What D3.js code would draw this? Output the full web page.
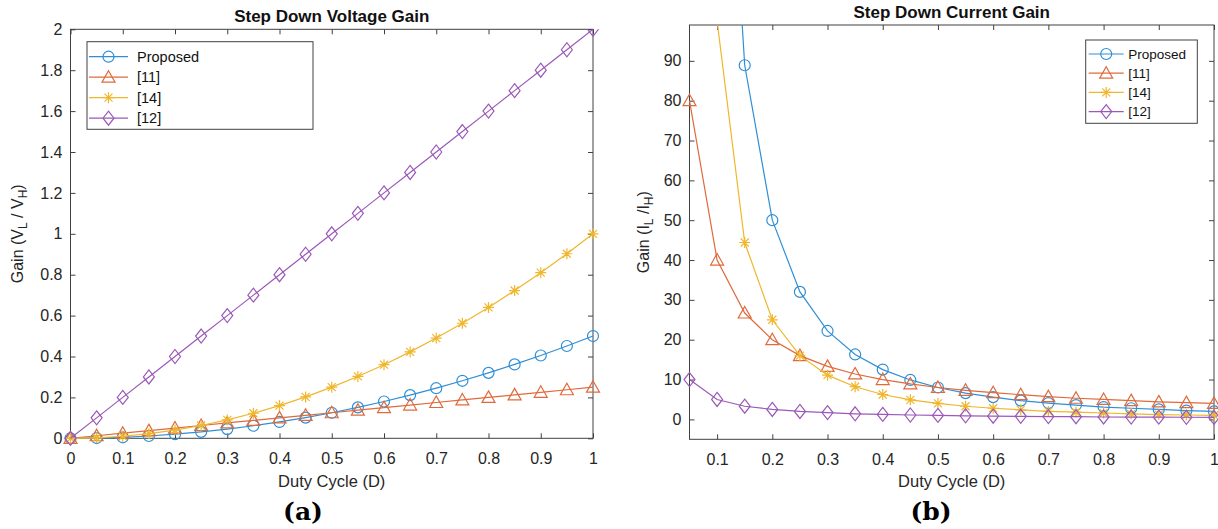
<!DOCTYPE html>
<html>
<head>
<meta charset="utf-8">
<script src="https://cdn.jsdelivr.net/npm/d3@7"></script>
<style>
  body { margin: 0; background: #fff; }
  svg { font-family: "Liberation Sans", Arial, sans-serif; }
</style>
</head>
<body>
<div id="views"></div>
<script>
// ---- data ----
var dutyA = [0, 0.05, 0.1, 0.15, 0.2, 0.25, 0.3, 0.35, 0.4, 0.45, 0.5,
             0.55, 0.6, 0.65, 0.7, 0.75, 0.8, 0.85, 0.9, 0.95, 1];
var voltProposed = [0, 0.00125, 0.005, 0.01125, 0.02, 0.03125, 0.045, 0.06125, 0.08, 0.10125, 0.125,
                    0.15125, 0.18, 0.21125, 0.245, 0.28125, 0.32, 0.36125, 0.405, 0.45125, 0.5];
var volt11 = [0, 0.0125, 0.025, 0.0375, 0.05, 0.0625, 0.075, 0.0875, 0.1, 0.1125, 0.125,
              0.1375, 0.15, 0.1625, 0.175, 0.1875, 0.2, 0.2125, 0.225, 0.2375, 0.25];
var volt14 = [0, 0.0025, 0.01, 0.0225, 0.04, 0.0625, 0.09, 0.1225, 0.16, 0.2025, 0.25,
              0.3025, 0.36, 0.4225, 0.49, 0.5625, 0.64, 0.7225, 0.81, 0.9025, 1];
var volt12 = [0, 0.1, 0.2, 0.3, 0.4, 0.5, 0.6, 0.7, 0.8, 0.9, 1,
              1.1, 1.2, 1.3, 1.4, 1.5, 1.6, 1.7, 1.8, 1.9, 2];

var dutyB = [0.05, 0.1, 0.15, 0.2, 0.25, 0.3, 0.35, 0.4, 0.45, 0.5,
             0.55, 0.6, 0.65, 0.7, 0.75, 0.8, 0.85, 0.9, 0.95, 1];
var currProposed = [800, 200, 88.9, 50, 32, 22.2, 16.3, 12.5, 9.9, 8,
                    6.6, 5.6, 4.7, 4.1, 3.6, 3.1, 2.8, 2.5, 2.2, 2];
var curr11 = [80, 40, 26.7, 20, 16, 13.3, 11.4, 10, 8.9, 8,
              7.3, 6.7, 6.2, 5.7, 5.3, 5, 4.7, 4.4, 4.2, 4];
var curr14 = [400, 100, 44.4, 25, 16, 11.1, 8.2, 6.25, 4.9, 4,
              3.3, 2.8, 2.4, 2.0, 1.8, 1.6, 1.4, 1.2, 1.1, 1];
var curr12 = [10, 5, 3.3, 2.5, 2, 1.7, 1.4, 1.25, 1.1, 1,
              0.9, 0.8, 0.77, 0.7, 0.67, 0.6, 0.59, 0.56, 0.53, 0.5];

var seriesNames = ["Proposed", "[11]", "[14]", "[12]"];
var seriesColors = ["#2f8fd6", "#e06a3b", "#f0b62c", "#9b58b8"];
var seriesMarkers = ["circle", "triangle", "star", "diamond"];

var ticksXA = [0, 0.1, 0.2, 0.3, 0.4, 0.5, 0.6, 0.7, 0.8, 0.9, 1];
var ticksYA = [0, 0.2, 0.4, 0.6, 0.8, 1, 1.2, 1.4, 1.6, 1.8, 2];
var ticksXB = [0.1, 0.2, 0.3, 0.4, 0.5, 0.6, 0.7, 0.8, 0.9, 1];
var ticksYB = [0, 10, 20, 30, 40, 50, 60, 70, 80, 90];

var W = 1218, H = 529;
var axisColor = "#404040";

var svg = d3.select("#views").append("svg")
    .attr("width", W).attr("height", H);

function markerPath(type) {
    if (type == "circle") return d3.arc()({innerRadius: 0, outerRadius: 5.5, startAngle: 0, endAngle: 2 * Math.PI});
    if (type == "triangle") return "M0,-6.5L6.5,5L-6.5,5Z";
    if (type == "diamond") return "M0,-7L5.5,0L0,7L-5.5,0Z";
    // star: MATLAB '*' = plus + cross
    return "M-5.5,0L5.5,0M0,-5.5L0,5.5M-4,-4L4,4M-4,4L4,-4";
}

function drawPanel(p) {
    var g = svg.append("g");
    var x = d3.scaleLinear().domain(p.xdom).range([p.left, p.right]);
    var y = d3.scaleLinear().domain(p.ydom).range([p.bottom, p.top]);

    // clip only at the top (lines leaving the axes)
    var clipId = "clip" + p.id;
    svg.append("clipPath").attr("id", clipId).append("rect")
        .attr("x", p.left - 20).attr("y", p.top)
        .attr("width", p.right - p.left + 40).attr("height", p.bottom - p.top + 30);

    // axes: ticks drawn inward on all four sides
    var fmt = function(d) { return String(+d.toFixed(1)); };
    var ax = [
        [d3.axisBottom(x).tickValues(p.xticks).tickFormat(fmt).tickSize(-5).tickPadding(14), "translate(0," + p.bottom + ")"],
        [d3.axisTop(x).tickValues(p.xticks).tickFormat("").tickSize(-5), "translate(0," + p.top + ")"],
        [d3.axisLeft(y).tickValues(p.yticks).tickFormat(fmt).tickSize(-5).tickPadding(8), "translate(" + p.left + ",0)"],
        [d3.axisRight(y).tickValues(p.yticks).tickFormat("").tickSize(-5), "translate(" + p.right + ",0)"]
    ];
    ax.forEach(function(a) {
        var ag = g.append("g").attr("transform", a[1]).call(a[0]);
        ag.select(".domain").remove();
        ag.selectAll("line").attr("stroke", axisColor);
        ag.selectAll("text").attr("fill", "#262626").style("font-size", "16px")
            .style("font-family", "Liberation Sans, Arial, sans-serif");
    });
    g.append("rect")
        .attr("x", p.left).attr("y", p.top)
        .attr("width", p.right - p.left).attr("height", p.bottom - p.top)
        .attr("fill", "none").attr("stroke", axisColor).attr("stroke-width", 1);

    // series
    var line = d3.line().x(d => x(d.d)).y(d => y(d.v));
    var plot = g.append("g").attr("clip-path", "url(#" + clipId + ")");
    p.series.forEach(function(vals, i) {
        var pts = p.duty.map(function(d, j) { return {d: d, v: vals[j]}; });
        plot.append("path").datum(pts)
            .attr("d", line)
            .attr("fill", "none")
            .attr("stroke", seriesColors[i])
            .attr("stroke-width", 1.2);
        plot.selectAll(".m" + i)
            .data(pts.filter(d => d.v <= p.ydom[1]))
            .enter().append("path")
            .attr("class", "m" + i)
            .attr("transform", d => "translate(" + x(d.d) + "," + y(d.v) + ")")
            .attr("d", markerPath(seriesMarkers[i]))
            .attr("fill", "none")
            .attr("stroke", seriesColors[i])
            .attr("stroke-width", 1.2);
    });

    // title
    g.append("text")
        .attr("x", (p.left + p.right) / 2).attr("y", p.top - 7)
        .attr("text-anchor", "middle")
        .style("font-size", "17px").style("font-weight", "bold")
        .attr("fill", "#111")
        .text(p.title);

    // x label
    g.append("text")
        .attr("x", (p.left + p.right) / 2).attr("y", 487)
        .attr("text-anchor", "middle")
        .style("font-size", "16.5px").attr("fill", "#262626")
        .text("Duty Cycle (D)");

    // y label with subscripts
    var yl = g.append("text")
        .attr("transform", "translate(" + p.ylabelX + "," + ((p.top + p.bottom) / 2) + ") rotate(-90)")
        .attr("text-anchor", "middle")
        .style("font-size", "16px").attr("fill", "#262626");
    p.ylabel.forEach(function(part) {
        yl.append("tspan")
            .attr("dy", part.sub ? 4 : (part.after ? -4 : 0))
            .style("font-size", part.sub ? "12px" : "16px")
            .text(part.t);
    });

    // panel letter
    g.append("text")
        .attr("x", p.letterX).attr("y", 520)
        .attr("text-anchor", "middle")
        .style("font-family", "DejaVu Serif, serif")
        .style("font-size", "25px").style("font-weight", "bold")
        .attr("fill", "#000")
        .text(p.letter);

    // legend
    var L = p.legend;
    var lg = g.append("g");
    lg.append("rect")
        .attr("x", L.x).attr("y", L.y).attr("width", L.w).attr("height", L.h)
        .attr("fill", "#fff").attr("stroke", axisColor).attr("stroke-width", 1);
    seriesNames.forEach(function(name, i) {
        var cy = L.y + L.first + i * L.step;
        lg.append("line")
            .attr("x1", L.x + L.l1).attr("x2", L.x + L.l2)
            .attr("y1", cy).attr("y2", cy)
            .attr("stroke", seriesColors[i]).attr("stroke-width", 1.2);
        lg.append("path")
            .attr("transform", "translate(" + (L.x + (L.l1 + L.l2) / 2) + "," + cy + ")")
            .attr("d", markerPath(seriesMarkers[i]))
            .attr("fill", "none").attr("stroke", seriesColors[i]).attr("stroke-width", 1.2);
        lg.append("text")
            .attr("x", L.x + L.tx).attr("y", cy).attr("dy", "0.36em")
            .style("font-size", L.fs).attr("fill", "#111")
            .text(name);
    });
}

drawPanel({
    id: "a", left: 70.5, right: 593, top: 29.3, bottom: 438.3,
    xdom: [0, 1], ydom: [0, 2], xticks: ticksXA, yticks: ticksYA,
    duty: dutyA, series: [voltProposed, volt11, volt14, volt12],
    title: "Step Down Voltage Gain",
    ylabelX: 23,
    ylabel: [{t: "Gain (V"}, {t: "L", sub: true}, {t: " / V", after: true}, {t: "H", sub: true}, {t: ")", after: true}],
    letter: "(a)", letterX: 303,
    legend: {x: 87, y: 41.7, w: 226, h: 87.6, first: 15, step: 20.5, l1: 2, l2: 41, tx: 50, fs: "14.5px"}
});

drawPanel({
    id: "b", left: 689.5, right: 1214, top: 25, bottom: 439.3,
    xdom: [0.05, 1], ydom: [-5, 99], xticks: ticksXB, yticks: ticksYB,
    duty: dutyB, series: [currProposed, curr11, curr14, curr12],
    title: "Step Down Current Gain",
    ylabelX: 649,
    ylabel: [{t: "Gain (I"}, {t: "L", sub: true}, {t: " /I", after: true}, {t: "H", sub: true}, {t: ")", after: true}],
    letter: "(b)", letterX: 931,
    legend: {x: 1085.7, y: 40, w: 111.6, h: 83.3, first: 14, step: 19.2, l1: 3, l2: 38, tx: 42.5, fs: "13.5px"}
});
</script>
</body>
</html>
